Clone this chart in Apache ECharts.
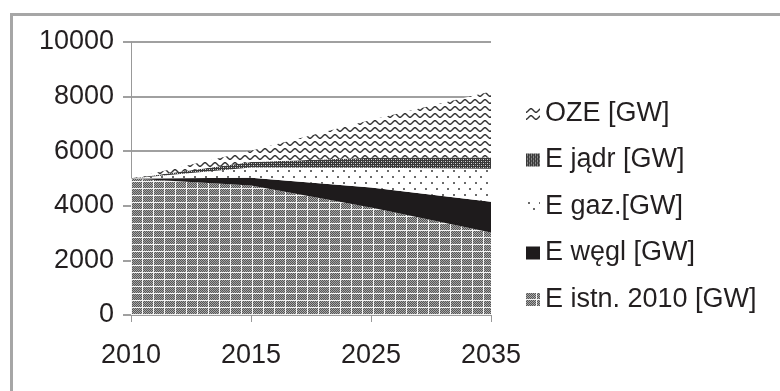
<!DOCTYPE html>
<html><head><meta charset="utf-8">
<script src="https://cdn.jsdelivr.net/npm/echarts@6/dist/echarts.min.js"></script>
<style>html,body{margin:0;padding:0;background:#fff}#c{width:780px;height:391px}</style>
</head><body><div id="c"></div>
<script>
const years = ['2010', '2015', '2025', '2035'];
const names = ['E istn. 2010 [GW]', 'E węgl [GW]', 'E gaz.[GW]', 'E jądr [GW]', 'OZE [GW]'];
const istn = [5000, 4740, 3935, 3020];
const wegl = [0, 290, 735, 1130];
const gaz = [0, 370, 725, 1205];
const jadr = [0, 200, 365, 418];
const oze = [0, 420, 1380, 2415];
const yTicks = [0, 2000, 4000, 6000, 8000, 10000];

function makePattern(w, h, draw) {
  const c = document.createElement('canvas');
  c.width = w; c.height = h;
  const g = c.getContext('2d');
  draw(g, w, h);
  return { image: c, repeat: 'repeat' };
}
function px(g, x, y, col) { g.fillStyle = col; g.fillRect(x, y, 1, 1); }

const pIstn = makePattern(11, 7, (g, w, h) => {
  for (let x = 0; x < w; x++) for (let y = 0; y < h; y++) {
    if (x === w - 1 || y === h - 1) px(g, x, y, '#f4f4f4');
    else px(g, x, y, (x + y) % 2 ? '#555555' : '#a8a8a8');
  }
});
const pWegl = '#1e1b1c';
const pGaz = makePattern(11, 12, (g, w, h) => {
  g.fillStyle = '#ffffff'; g.fillRect(0, 0, w, h);
  g.fillStyle = '#6a6a6a';
  g.fillRect(2, 2, 2, 2);
  g.fillRect(7, 8, 2, 2);
});
const pJadr = makePattern(4, 4, (g, w, h) => {
  g.fillStyle = '#383838'; g.fillRect(0, 0, w, h);
  px(g, 1, 1, '#d8d8d8'); px(g, 3, 3, '#d8d8d8');
  px(g, 3, 1, '#8a8a8a'); px(g, 1, 3, '#8a8a8a');
});
const pOze = makePattern(10, 7, (g, w, h) => {
  g.fillStyle = '#ffffff'; g.fillRect(0, 0, w, h);
  g.strokeStyle = '#333333'; g.lineWidth = 1.4;
  g.beginPath();
  for (let x = -1; x <= w + 1; x += 0.5) {
    const y = 3.5 + 1.8 * Math.cos(2 * Math.PI * x / w);
    if (x === -1) g.moveTo(x, y); else g.lineTo(x, y);
  }
  g.stroke();
});
const fills = [pIstn, pWegl, pGaz, pJadr, pOze];
const values = [istn, wegl, gaz, jadr, oze];

const font = 'Liberation Sans, Arial, sans-serif';
const txt = '#231f20';
const chart = echarts.init(document.getElementById('c'), null, { renderer: 'canvas' });
chart.setOption({
  animation: false,
  backgroundColor: '#ffffff',
  graphic: [
    { type: 'line', shape: { x1: 11.5, y1: 14, x2: 11.5, y2: 391 }, style: { stroke: '#a6a6a6', lineWidth: 3 } },
    { type: 'line', shape: { x1: 10, y1: 14.5, x2: 780, y2: 14.5 }, style: { stroke: '#a6a6a6', lineWidth: 3 } }
  ],
  grid: { left: 131, right: 289, top: 42, bottom: 76, containLabel: false },
  legend: {
    orient: 'vertical', left: 521, top: 95,
    itemWidth: 14, itemHeight: 13, itemGap: 19.5, icon: 'rect',
    textStyle: { fontFamily: font, fontSize: 27, lineHeight: 27, color: txt },
    data: names.slice().reverse().map((n) => ({ name: n, itemStyle: { color: fills[names.indexOf(n)] } }))
  },
  xAxis: {
    type: 'category', data: years, boundaryGap: false,
    axisLine: { lineStyle: { color: '#999', width: 1 } },
    axisTick: { show: true, length: 7, lineStyle: { color: '#999' } },
    axisLabel: { fontFamily: font, fontSize: 27, color: txt, margin: 27 },
    splitLine: { show: false }
  },
  yAxis: {
    type: 'value', min: 0, max: 10000, interval: 2000,
    axisLine: { show: true, lineStyle: { color: '#999', width: 1 } },
    axisTick: { show: true, length: 8, lineStyle: { color: '#a0a0a0', width: 2 } },
    axisLabel: { fontFamily: font, fontSize: 27, color: txt, margin: 17,
      formatter: (v) => yTicks.includes(v) ? String(v) : '' },
    splitLine: { show: true, lineStyle: { color: '#a0a0a0', width: 2 } }
  },
  series: names.map((n, i) => ({
    name: n, type: 'line', stack: 'total', data: values[i],
    showSymbol: false, symbol: 'none',
    lineStyle: { width: 0 },
    itemStyle: { color: fills[i] },
    areaStyle: { color: fills[i], opacity: 1 }
  }))
});
</script>
</body></html>
